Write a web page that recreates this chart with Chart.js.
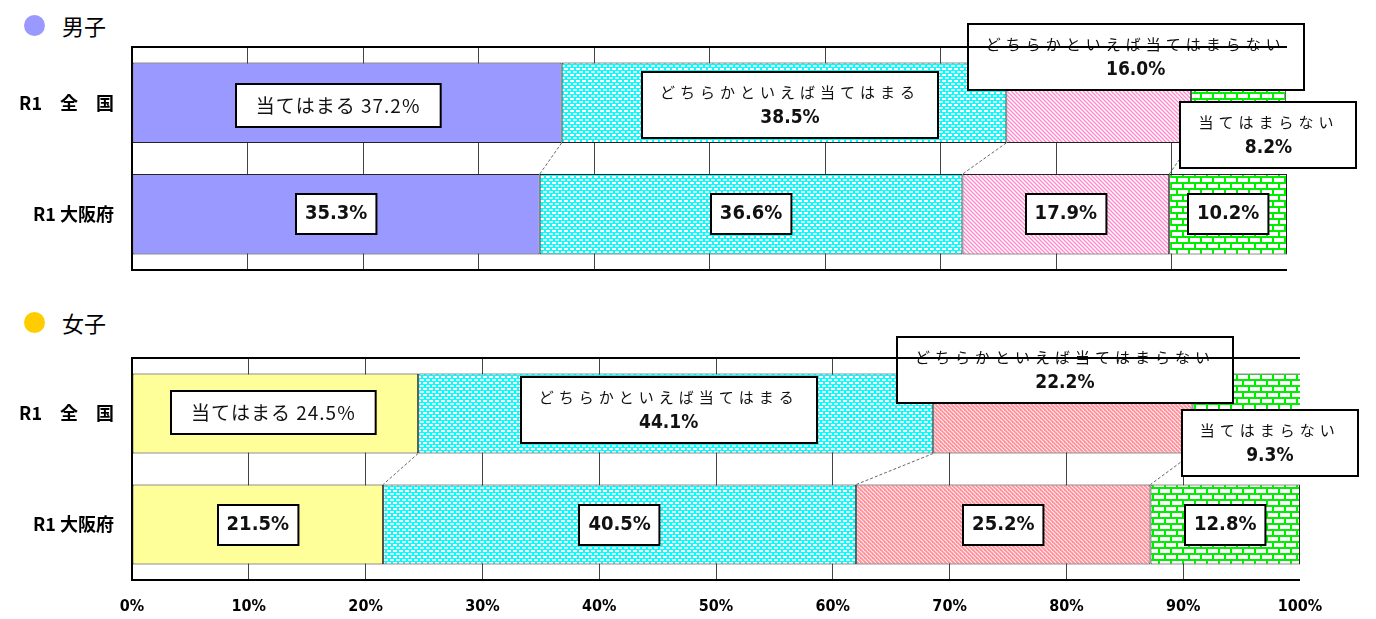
<!DOCTYPE html>
<html>
<head>
<meta charset="utf-8">
<script src="https://cdn.jsdelivr.net/npm/chart.js@4"></script>
<style>
  body { margin: 0; background: #fff; width: 1376px; height: 619px; position: relative; overflow: hidden; font-family: "Noto Sans CJK JP", sans-serif; }
  canvas { position: absolute; left: 0; }
  .title { position: absolute; left: 24px; font-size: 22px; display: flex; align-items: center; color: #000; }
  .dot { width: 21px; height: 21px; border-radius: 50%; margin-right: 17px; }
</style>
</head>
<body>
<div class="title" style="top:9px"><span class="dot" style="background:#9999FF"></span>男子</div>
<div class="title" style="top:306px"><span class="dot" style="background:#FFCC00"></span>女子</div>
<canvas id="boys" width="1376" height="260" style="top:20px"></canvas>
<canvas id="girls" width="1376" height="294" style="top:325px"></canvas>
<script>
// rows and answers
const categories = ["R1\u3000全\u3000国", "R1 大阪府"];
const answers = ["当てはまる", "どちらかといえば当てはまる", "どちらかといえば当てはまらない", "当てはまらない"];

// 男子 (%), [全国, 大阪府]
const boysApply = [37.2, 35.3];
const boysSomewhatApply = [38.5, 36.6];
const boysSomewhatNot = [16.0, 17.9];
const boysNot = [8.2, 10.2];

// 女子 (%)
const girlsApply = [24.5, 21.5];
const girlsSomewhatApply = [44.1, 40.5];
const girlsSomewhatNot = [22.2, 25.2];
const girlsNot = [9.3, 12.8];

// where the 全国 callouts sit, relative to their segment centre
const boysOffsets = [[-9, 3], [6, 2], [37, -46], [30, 32]];
const girlsOffsets = [[-2, -1], [-7, -4], [2, -44], [23, 29]];

function tile(w, h, bg, draw) {
  const c = document.createElement("canvas");
  c.width = w; c.height = h;
  const g = c.getContext("2d");
  g.fillStyle = bg;
  g.fillRect(0, 0, w, h);
  draw(g);
  return g.createPattern(c, "repeat");
}

const cyanDots = tile(6, 6, "#00FFFF", g => {
  g.fillStyle = "#fff";
  g.fillRect(0, 0, 4, 2);
  g.fillRect(3, 3, 3, 2);
  g.fillRect(0, 3, 1, 2);
});

function pinkHatch(bg, lw) {
  return tile(4, 4, bg, g => {
    g.strokeStyle = "#FF88CC";
    g.lineWidth = lw;
    [-4, 0, 4].forEach(o => {
      g.beginPath();
      g.moveTo(o - 1, -1);
      g.lineTo(o + 5, 5);
      g.stroke();
    });
  });
}

const greenBricks = tile(12, 12, "#fff", g => {
  g.fillStyle = "#00EE00";
  g.fillRect(0, 0, 12, 2);
  g.fillRect(0, 6, 12, 2);
  g.fillRect(0, 2, 2, 4);
  g.fillRect(6, 8, 2, 4);
});

const frame = {
  id: "frame",
  afterDraw(chart) {
    const a = chart.chartArea, ctx = chart.ctx;
    ctx.save();
    ctx.strokeStyle = "#000";
    ctx.lineWidth = 2;
    ctx.beginPath();
    ctx.moveTo(a.left, a.top); ctx.lineTo(a.right, a.top);
    ctx.moveTo(a.left, a.bottom); ctx.lineTo(a.right, a.bottom);
    ctx.stroke();
    ctx.restore();
  }
};

// dashed lines joining segment edges of the two bars
const joins = {
  id: "joins",
  afterDatasetsDraw(chart) {
    const ctx = chart.ctx;
    ctx.save();
    ctx.strokeStyle = "#666";
    ctx.lineWidth = 1;
    ctx.setLineDash([3, 2]);
    for (let i = 0; i < chart.data.datasets.length - 1; i++) {
      const m = chart.getDatasetMeta(i).data;
      const top = m[0], bot = m[1];
      ctx.beginPath();
      ctx.moveTo(top.x, top.y + top.height / 2);
      ctx.lineTo(bot.x, bot.y - bot.height / 2);
      ctx.stroke();
    }
    ctx.restore();
  }
};

function boxText(ctx, lines, cx, cy, padX, padY) {
  let w = 0, h = 0;
  lines.forEach(l => {
    ctx.font = l.font;
    ctx.letterSpacing = l.spacing || "0px";
    w = Math.max(w, ctx.measureText(l.text).width);
    h += l.lh;
  });
  w += padX * 2; h += padY * 2;
  const x = Math.round(cx - w / 2), y = Math.round(cy - h / 2);
  ctx.fillStyle = "#fff";
  ctx.fillRect(x, y, w, h);
  ctx.strokeStyle = "#000";
  ctx.lineWidth = 2;
  ctx.strokeRect(x, y, w, h);
  let ty = y + padY;
  ctx.fillStyle = "#111";
  ctx.textAlign = "center";
  ctx.textBaseline = "middle";
  lines.forEach(l => {
    ctx.font = l.font;
    ctx.letterSpacing = l.spacing || "0px";
    ctx.fillText(l.text, cx, ty + l.lh / 2);
    ty += l.lh;
  });
  ctx.letterSpacing = "0px";
}

const boxLabels = {
  id: "boxLabels",
  afterDatasetsDraw(chart, args, opts) {
    const ctx = chart.ctx;
    ctx.save();
    // 大阪府 row first, 全国 callouts on top
    [1, 0].forEach(j => {
      chart.data.datasets.forEach((ds, i) => {
        const el = chart.getDatasetMeta(i).data[j];
        const v = ds.data[j].toFixed(1) + "%";
        let cx = (el.x + el.base) / 2, cy = el.y;
        let lines;
        if (j === 1) {
          lines = [{ text: v, font: 'bold 20px "DejaVu Sans Condensed"', lh: 22 }];
          boxText(ctx, lines, cx, cy, 9, 9);
          return;
        }
        cx += opts.offsets[i][0];
        cy += opts.offsets[i][1];
        if (i === 0) {
          lines = [{ text: ds.label + " " + v, font: '19px "Noto Sans CJK JP"', spacing: "1px", lh: 27 }];
          boxText(ctx, lines, cx, cy, 20, 8);
        } else {
          lines = [
            { text: ds.label, font: '15px "Noto Sans CJK JP"', spacing: "5px", lh: 27 },
            { text: v, font: 'bold 19px "DejaVu Sans Condensed"', lh: 25 }
          ];
          boxText(ctx, lines, cx, cy, 18, 7);
        }
      });
    });
    ctx.restore();
  }
};

function makeChart(id, values, firstColor, pinkFill, offsets, showTicks, padRight, padTop, axisH) {
  const fills = [firstColor, cyanDots, pinkFill, greenBricks];
  return new Chart(document.getElementById(id), {
    type: "bar",
    data: {
      labels: categories,
      datasets: values.map((d, i) => ({
        label: answers[i],
        data: d,
        backgroundColor: fills[i],
        borderColor: "#222",
        borderWidth: 1,
        borderSkipped: false,
        barPercentage: 0.72,
        categoryPercentage: 1
      }))
    },
    options: {
      indexAxis: "y",
      responsive: false,
      animation: false,
      layout: { padding: { left: 0, right: padRight, top: padTop, bottom: 0 } },
      plugins: {
        legend: { display: false },
        tooltip: { enabled: false },
        boxLabels: { offsets }
      },
      scales: {
        x: {
          stacked: true,
          min: 0,
          max: 100,
          ticks: {
            display: showTicks,
            stepSize: 10,
            padding: 17,
            color: "#000",
            font: { family: "DejaVu Sans Condensed", size: 16, weight: "bold" },
            callback: v => v + "%"
          },
          grid: {
            drawTicks: false,
            lineWidth: 1,
            color: c => (c.tick && (c.tick.value === 0 || c.tick.value === 100)) ? "rgba(0,0,0,0)" : "#444"
          },
          border: { display: false },
          afterFit: s => { s.height = axisH; s.paddingLeft = 0; s.paddingRight = 0; }
        },
        y: {
          stacked: true,
          grid: { display: false, drawTicks: false },
          border: { display: true, color: "#000", width: 2 },
          ticks: {
            padding: 18,
            color: "#000",
            font: { family: "Noto Sans CJK JP", size: 18, weight: "bold" }
          },
          afterFit: s => { s.width = 132; s.paddingTop = 0; s.paddingBottom = 0; }
        }
      }
    },
    plugins: [frame, joins, boxLabels]
  });
}

makeChart("boys", [boysApply, boysSomewhatApply, boysSomewhatNot, boysNot],
  "#9999FF", pinkHatch("#FFFFFF", 1.3), boysOffsets, false, 89, 27, 10);
makeChart("girls", [girlsApply, girlsSomewhatApply, girlsSomewhatNot, girlsNot],
  "#FFFF99", pinkHatch("#FFFF99", 1.8), girlsOffsets, true, 76, 33, 39);
</script>
</body>
</html>
